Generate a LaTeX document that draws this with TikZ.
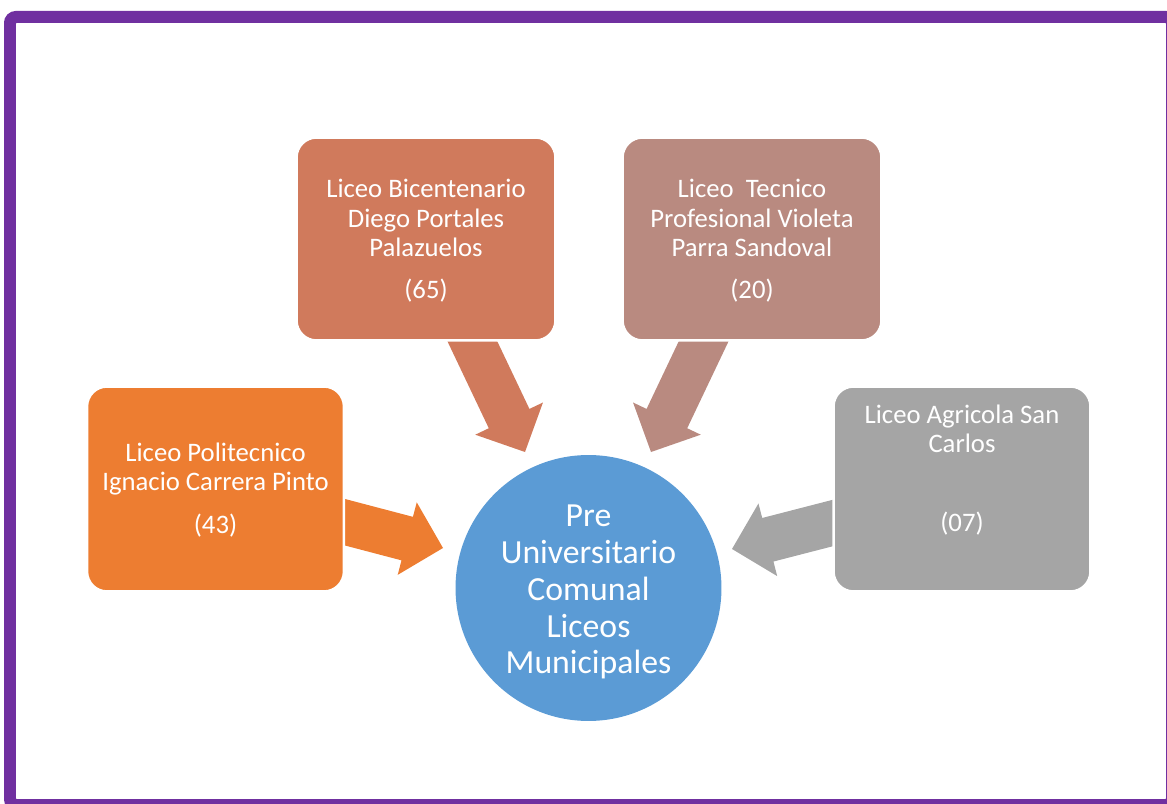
\documentclass[tikz,border=0pt]{standalone}
\usepackage{fontspec}
\setmainfont{Carlito}
\usetikzlibrary{calc}
\definecolor{framepurple}{HTML}{7030A0}
\definecolor{corange}{HTML}{ED7D31}
\definecolor{csalmon}{HTML}{D07A5C}
\definecolor{ctaupe}{HTML}{B98A80}
\definecolor{cgrey}{HTML}{A5A5A5}
\definecolor{cblue}{HTML}{5B9BD5}
\newcommand{\blockarrow}[3]{%
  \coordinate (#1-h) at ($(#2)!0.74cm!(#1)$);
  \fill[#3] ($(#1)!0.45cm!90:(#2)$) -- ($(#1-h)!0.45cm!-90:(#1)$) -- ($(#1-h)!0.75cm!-90:(#1)$) -- (#2) -- ($(#1-h)!0.75cm!90:(#1)$) -- ($(#1-h)!0.45cm!90:(#1)$) -- ($(#1)!0.45cm!-90:(#2)$) -- cycle;
}
\tikzset{
  schoolbox/.style={rounded corners=0.4cm, draw=white, line width=0.05cm, inner sep=0pt},
  sidebox/.style={schoolbox, minimum width=5.14cm, minimum height=4.1cm},
  topbox/.style={schoolbox, minimum width=5.18cm, minimum height=4.06cm},
  boxtext/.style={text=white, align=center, inner sep=0pt, font=\fontsize{15.2}{16.6}\selectfont},
  hub/.style={circle, fill=cblue, minimum size=5.32cm, inner sep=0pt},
  hubtext/.style={text=white, align=center, inner sep=0pt, font=\fontsize{19.2}{21}\selectfont}
}
\begin{document}
\begin{tikzpicture}[x=0.02cm, y=-0.02cm]
\useasboundingbox (0,0) rectangle (1167,804);
\draw[framepurple, line width=0.24cm, rounded corners=0.12cm] (10,17) rectangle (1172,805);
% arrow anchor coordinates
\coordinate (a1) at (287,507); \coordinate (a1tip) at (443,548);
\coordinate (a2) at (447,288); \coordinate (a2tip) at (525,452);
\coordinate (a3) at (729,288); \coordinate (a3tip) at (651,452);
\coordinate (a4) at (891,508); \coordinate (a4tip) at (732,549);
\blockarrow{a1}{a1tip}{corange}
\blockarrow{a2}{a2tip}{csalmon}
\blockarrow{a3}{a3tip}{ctaupe}
\blockarrow{a4}{a4tip}{cgrey}
% boxes
\node[sidebox, fill=corange] (b1) at (215.5,489) {};
\node[topbox, fill=csalmon] (b2) at (426,239) {};
\node[topbox, fill=ctaupe] (b3) at (752,239) {};
\node[sidebox, fill=cgrey] (b4) at (962,489) {};
\node[boxtext] (t1) at (215.5,490) {Liceo Politecnico\\Ignacio Carrera Pinto\\[8pt](43)};
\node[boxtext] (t2) at (426,241) {Liceo Bicentenario\\Diego Portales\\Palazuelos\\[7.5pt](65)};
\node[boxtext] (t3) at (752,241) {Liceo~~Tecnico\\Profesional Violeta\\Parra Sandoval\\[7.5pt](20)};
\node[boxtext] (t4) at (962,470) {Liceo Agricola San\\Carlos\\[28pt](07)};
% hub
\node[hub] (c) at (588.5,588) {};
\node[hubtext] (ct) at (588.5,592) {Pre\\Universitario\\Comunal\\Liceos\\Municipales};
\end{tikzpicture}
\end{document}
